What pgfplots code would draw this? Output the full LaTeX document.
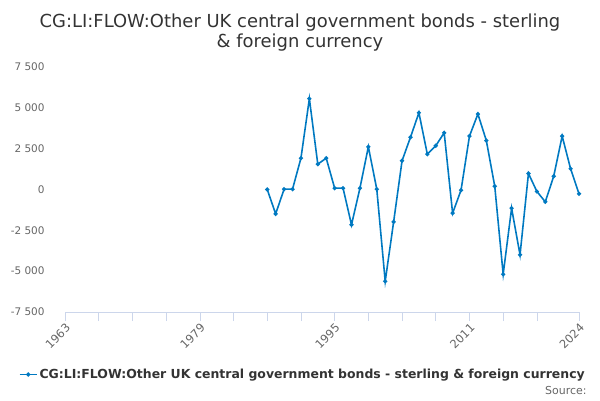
\documentclass[border=0pt]{standalone}
\usepackage{pgfplots}
\pgfplotsset{compat=1.18}
\usepackage{fontspec}
\setmainfont{DejaVu Sans}
\definecolor{ln}{RGB}{0,121,193}
\definecolor{grd}{RGB}{230,230,230}
\definecolor{axl}{RGB}{204,214,235}
\definecolor{tl}{RGB}{102,102,102}
\definecolor{tt}{RGB}{51,51,51}
\begin{document}
\begin{tikzpicture}[x=1bp,y=1bp]
\path[use as bounding box] (0,0) rectangle (600,400);
\node[anchor=base,font=\fontsize{18}{22}\selectfont,text=tt,align=center] at (300,373) {CG:LI:FLOW:Other UK central government bonds - sterling};
\node[anchor=base,font=\fontsize{18}{22}\selectfont,text=tt,align=center] at (300,353) {\& foreign currency};
\begin{axis}[
  at={(65bp,88bp)}, anchor=south west,
  scale only axis, width=514bp, height=245bp,
  xmin=1963, xmax=2024, ymin=-7500, ymax=7500,
  axis y line=none,
  axis x line*=bottom,
  x axis line style={draw=axl,-},
  ytick={-7500,-5000,-2500,0,2500,5000,7500},
  ymajorgrids, grid style={draw=grd,line width=0.8pt},
  xtick={1963,1979,1995,2011,2024},
  xticklabels={1963,1979,1995,2011,2024},
  minor xtick={1967,1971,1975,1983,1987,1991,1999,2003,2007,2015,2019},
  x tick label style={rotate=45,anchor=north east,font=\fontsize{11.5}{13}\selectfont,text=tl,inner sep=1pt},
  xtick style={draw=axl,line width=0.6pt},
  minor x tick style={draw=axl,line width=0.6pt},
  major tick length=9bp, minor tick length=9bp,
  xtick pos=bottom, tick align=outside,
  /pgf/number format/assume math mode=true,
  clip=false,
  legend style={at={(rel axis cs:-0.09,-0.255)},anchor=west,draw=none,fill=none,
    font=\fontsize{12.5}{15}\selectfont\bfseries,text=tt,inner sep=0pt},
]
\pgfplotsextra{
  \foreach \v/\t in {-7500/-7 500,-5000/-5 000,-2500/-2 500,0/0,2500/2 500,5000/5 000,7500/7 500}{
    \node[anchor=east,font=\fontsize{10.5}{12}\selectfont,text=tl] at (axis cs:1963,\v) [xshift=-17bp] {\t};
  }
}
\addplot[color=ln,line width=1.6pt,mark=*,mark size=1.2pt] coordinates {
(1987,0) (1988,-1490) (1989,20) (1990,20) (1991,1918) (1992,5560) (1993,1550)
(1994,1918) (1995,80) (1996,80) (1997,-2160) (1998,80) (1999,2615) (2000,20)
(2001,-5620) (2002,-1980) (2003,1760) (2004,3200) (2005,4700) (2006,2160)
(2007,2680) (2008,3470) (2009,-1450) (2010,-40) (2011,3270) (2012,4620)
(2013,3000) (2014,200) (2015,-5190) (2016,-1145) (2017,-4000) (2018,980)
(2019,-120) (2020,-755) (2021,815) (2022,3270) (2023,1270) (2024,-265)
};
\addlegendentry{CG:LI:FLOW:Other UK central government bonds - sterling \& foreign currency}
\end{axis}
\node[anchor=base east,font=\fontsize{11}{13}\selectfont,text=tl] at (590,6) {Source:};
\end{tikzpicture}
\end{document}
